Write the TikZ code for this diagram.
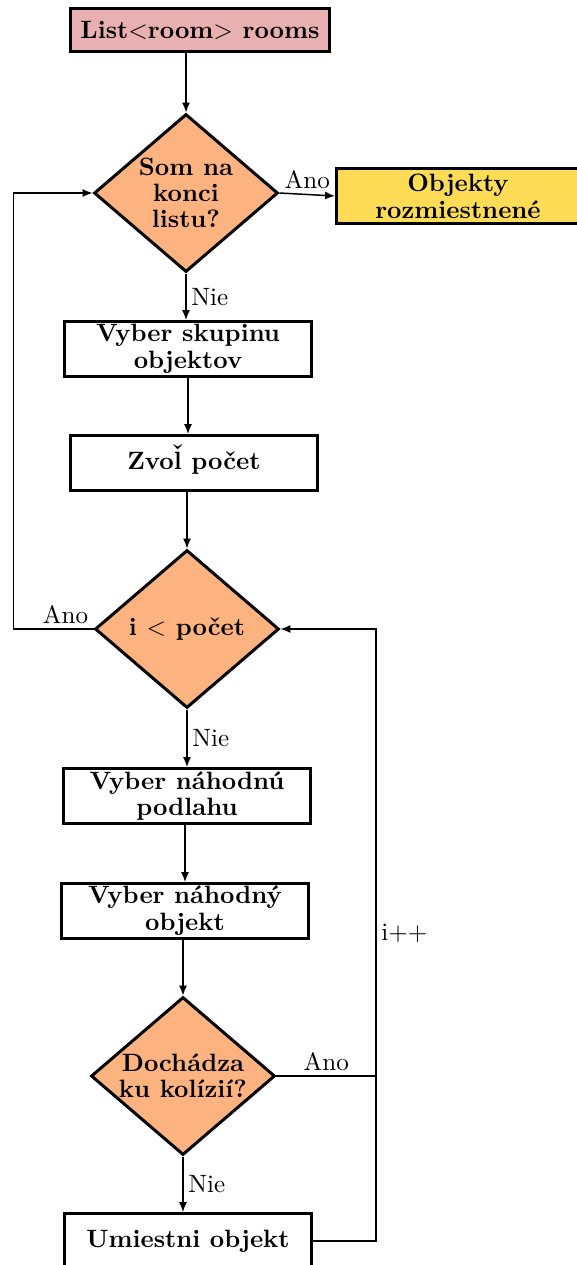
\documentclass[tikz,border=0pt]{standalone}
\usepackage{xcolor}
\usepackage{tikz}
\usetikzlibrary{positioning, shapes, shapes.geometric, arrows.meta, calc}
\definecolor{startpink}{HTML}{E8B0B0}
\definecolor{decorange}{HTML}{FDB37F}
\definecolor{endyellow}{HTML}{FFDC55}
\newcommand{\hacekl}{\ooalign{l\cr\hidewidth\raisebox{.6ex}{\char"02C7}\hidewidth\cr}}
\tikzset{flowchart/.style={
    x=0.4348pt, y=-0.4348pt,
    process/.style={rectangle, draw=black, line width=1.3pt, minimum width=107.8pt, minimum height=23.9pt, inner ysep=0pt, align=center, fill=white, font={\fontsize{10.9}{11.6}\selectfont\bfseries}},
    decision/.style={diamond, draw=black, line width=1.3pt, minimum width=80pt, minimum height=68.7pt, inner sep=-5pt, align=center, fill=decorange, font={\fontsize{10.9}{11.2}\selectfont\bfseries}},
    arr/.style={line width=0.65pt, -{Latex[length=4.3pt, width=3.5pt]}},
    line/.style={line width=0.65pt},
    lbl/.style={font=\fontsize{10.9}{11.8}\selectfont, inner sep=2pt},
}}

\begin{document}
\begin{tikzpicture}[flowchart]
    \useasboundingbox (0,0) rectangle (577,1265);
    % nodes
    \node[process, fill=startpink, minimum width=113pt, minimum height=19.1pt] (start) at (200,30) {List$<$room$>$ rooms};
    \node[decision] (endlist) at (186,193) {Som na\\konci\\listu?};
    \node[process, fill=endyellow, minimum width=105.7pt] (done) at (458,196) {Objekty\\rozmiestnen\'e};
    \node[process] (group) at (188,349) {Vyber skupinu\\objektov};
    \node[process] (count) at (194,463) {Zvo\hacekl{} po\v{c}et};
    \node[decision] (loop) at (187,629) {i $<$ po\v{c}et};
    \node[process] (floor) at (187,796) {Vyber n\'ahodn\'u\\podlahu};
    \node[process] (object) at (185,911) {Vyber n\'ahodn\'y\\objekt};
    \node[decision] (collide) at (183,1076) {Doch\'adza\\ku kol\'izi\'i?};
    \node[process] (place) at (188,1241) {Umiestni objekt};
    \coordinate (join) at (376,1076);
    % connectors
    \draw[arr] (start.south -| endlist) -- (endlist.north);
    \draw[arr] (endlist.east) -- node[lbl, above]{Ano} (done.west);
    \draw[arr] (endlist.south) -- node[lbl, right]{Nie} (group.north -| endlist);
    \draw[arr] (group) -- (count.north -| group);
    \draw[arr] (count.south -| loop) -- (loop.north);
    \draw[arr] (loop.west) -- node[lbl, above, pos=0.35]{Ano} ++(-80,0) |- (endlist.west);
    \draw[arr] (loop.south) -- node[lbl, right]{Nie} (floor.north -| loop);
    \draw[arr] (floor.south -| object) -- (object.north);
    \draw[arr] (object.south -| collide) -- (collide.north);
    \draw[line] (collide.east) -- node[lbl, above]{Ano} (join);
    \draw[arr] (collide.south) -- node[lbl, right]{Nie} (place.north -| collide);
    \draw[arr] (place.east) -| (join) |- node[lbl, right, pos=0.16]{i++} (loop.east);
\end{tikzpicture}
\end{document}
